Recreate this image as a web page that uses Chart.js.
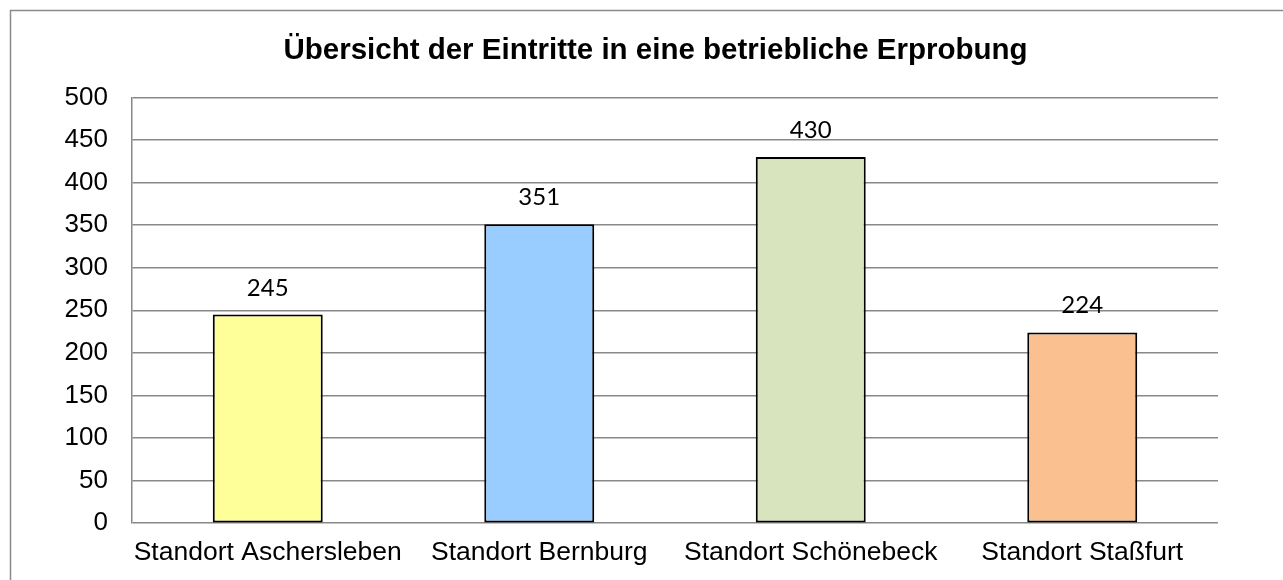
<!DOCTYPE html>
<html>
<head>
<meta charset="utf-8">
<script src="https://cdn.jsdelivr.net/npm/chart.js@4.4.1/dist/chart.umd.min.js"></script>
<style>
  html, body { margin: 0; padding: 0; background: #fff; overflow: hidden; }
  #wrap { position: absolute; left: 0; top: 0; width: 1310px; height: 583px; }
</style>
</head>
<body>
<div id="wrap"><canvas id="barChart"></canvas></div>
<script>
const chartTitle = 'Übersicht der Eintritte in eine betriebliche Erprobung';
const categories = ['Standort Aschersleben', 'Standort Bernburg', 'Standort Schönebeck', 'Standort Staßfurt'];
const entries = [245, 351, 430, 224];
const barColors = ['#FFFF99', '#99CCFF', '#D7E4BD', '#FAC090'];
const yMin = 0;
const yMax = 500;
const yStep = 50;

// outer frame of the chart object
const framePlugin = {
    id: 'frame',
    beforeDraw(chart) {
        const ctx = chart.ctx;
        ctx.save();
        ctx.strokeStyle = '#8a8a8a';
        ctx.lineWidth = 1.5;
        ctx.strokeRect(10.5, 10.5, 1400, 700);
        ctx.restore();
    }
};

// value labels above the bars
const valueLabels = {
    id: 'valueLabels',
    afterDatasetsDraw(chart) {
        const ctx = chart.ctx;
        const meta = chart.getDatasetMeta(0);
        ctx.save();
        ctx.font = '24px Lato, "Open Sans", sans-serif';
        ctx.fillStyle = '#000';
        ctx.textAlign = 'center';
        ctx.textBaseline = 'alphabetic';
        meta.data.forEach(function(bar, i) {
            ctx.fillText(String(entries[i]), bar.x, bar.y - 19);
        });
        ctx.restore();
    }
};

const ctx = document.getElementById('barChart').getContext('2d');
const myChart = new Chart(ctx, {
    type: 'bar',
    data: {
        labels: categories,
        datasets: [{
            data: entries,
            backgroundColor: barColors,
            borderColor: '#000',
            borderWidth: 2,
            borderSkipped: false,
            categoryPercentage: 1,
            barPercentage: 0.405
        }]
    },
    options: {
        responsive: true,
        maintainAspectRatio: false,
        animation: false,
        layout: {
            padding: { left: 43, right: 42, top: 0, bottom: 0 }
        },
        plugins: {
            legend: { display: false },
            tooltip: { enabled: false },
            title: {
                display: true,
                text: chartTitle,
                color: '#000',
                font: { family: '"Liberation Sans", Arial, sans-serif', size: 29.5, weight: 'bold' },
                padding: { top: 33, bottom: 29 }
            }
        },
        scales: {
            x: {
                grid: { display: false, drawTicks: false },
                border: { display: false },
                ticks: {
                    color: '#000',
                    padding: 14,
                    maxRotation: 0,
                    font: { family: '"Liberation Sans", Arial, sans-serif', size: 26.5 }
                }
            },
            y: {
                min: yMin,
                max: yMax,
                afterFit(scale) { scale.width = 89; },
                grid: { color: '#888888', lineWidth: 1.5, drawTicks: false },
                border: { display: true, color: '#888888', width: 1.5 },
                ticks: {
                    stepSize: yStep,
                    color: '#000',
                    padding: 24,
                    font: { family: '"Liberation Sans", Arial, sans-serif', size: 26 }
                }
            },
            // empty right-hand spacer, keeps the plot area where the original has it
            spacer: {
                type: 'linear',
                position: 'right',
                min: yMin,
                max: yMax,
                afterFit(scale) { scale.width = 50; },
                grid: { display: false, drawTicks: false },
                border: { display: false },
                ticks: { display: false }
            }
        }
    },
    plugins: [framePlugin, valueLabels]
});
</script>
</body>
</html>
